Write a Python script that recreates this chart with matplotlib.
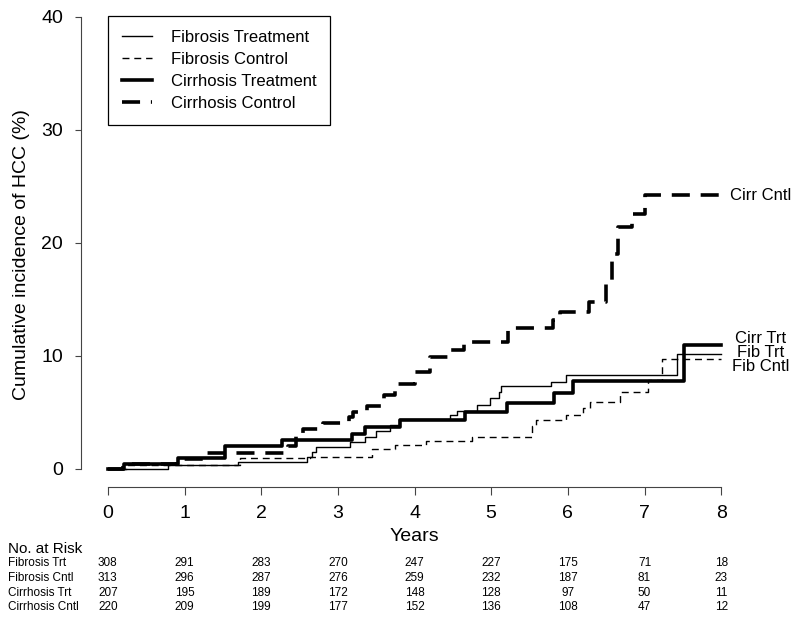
import numpy as np
import matplotlib
matplotlib.use('Agg')
from matplotlib import pyplot as plt
from matplotlib import transforms

plt.rcParams['font.family'] = ['Liberation Sans', 'DejaVu Sans']

# step curves (years, cumulative incidence %)
fib_trt_t = [0, 0.78, 1.70, 2.60, 2.66, 2.72, 3.16, 3.36, 3.50, 3.68, 3.80, 4.46, 4.55, 4.81, 4.99, 5.10, 5.13, 5.78, 5.98, 7.42, 8.0]
fib_trt_v = [0, 0.32, 0.65, 1.09, 1.53, 1.97, 2.40, 2.86, 3.36, 3.90, 4.40, 4.78, 5.16, 5.66, 6.30, 6.84, 7.30, 7.70, 8.30, 10.20, 10.20]

fib_cntl_t = [0, 0.25, 1.72, 2.64, 3.44, 3.75, 4.15, 4.75, 5.53, 5.58, 5.97, 6.20, 6.29, 6.68, 7.05, 7.23, 8.0]
fib_cntl_v = [0, 0.32, 0.95, 1.10, 1.74, 2.10, 2.50, 2.86, 3.80, 4.34, 4.80, 5.40, 5.96, 6.84, 7.90, 9.75, 9.75]

cirr_trt_t = [0, 0.21, 0.91, 1.53, 2.27, 3.18, 3.35, 3.81, 4.66, 5.21, 5.82, 6.07, 7.52, 8.0]
cirr_trt_v = [0, 0.48, 1.00, 2.00, 2.57, 3.10, 3.75, 4.30, 5.07, 5.87, 6.75, 7.80, 11.00, 11.00]

cirr_cntl_t = [0, 0.20, 0.90, 1.29, 2.35, 2.45, 2.55, 2.80, 3.14, 3.20, 3.38, 3.60, 3.75, 4.00, 4.20, 4.45, 4.65, 5.22, 5.80, 5.90, 6.27, 6.50, 6.57, 6.66, 6.84, 7.01, 8.0]
cirr_cntl_v = [0, 0.45, 0.90, 1.45, 2.00, 2.90, 3.50, 4.04, 4.60, 5.07, 5.60, 6.50, 7.50, 8.60, 9.90, 10.50, 11.20, 12.45, 13.20, 13.90, 14.80, 16.70, 19.00, 21.40, 22.60, 24.20, 24.20]

legend_names = ['Fibrosis Treatment', 'Fibrosis Control', 'Cirrhosis Treatment', 'Cirrhosis Control']
end_names = ['Fib Trt', 'Fib Cntl', 'Cirr Trt', 'Cirr Cntl']

# number at risk table
risk_years = [0, 1, 2, 3, 4, 5, 6, 7, 8]
risk_rows = ['Fibrosis Trt', 'Fibrosis Cntl', 'Cirrhosis Trt', 'Cirrhosis Cntl']
risk_fib_trt = [308, 291, 283, 270, 247, 227, 175, 71, 18]
risk_fib_cntl = [313, 296, 287, 276, 259, 232, 187, 81, 23]
risk_cirr_trt = [207, 195, 189, 172, 148, 128, 97, 50, 11]
risk_cirr_cntl = [220, 209, 199, 177, 152, 136, 108, 47, 12]

fig = plt.figure(figsize=(8, 6.22), dpi=100)
ax = fig.add_axes([0.10125, 0.217, 0.83375, 0.783])

curves = [(fib_trt_t, fib_trt_v), (fib_cntl_t, fib_cntl_v),
          (cirr_trt_t, cirr_trt_v), (cirr_cntl_t, cirr_cntl_v)]
widths = [1.0, 1.0, 2.6, 2.6]
dashes = [None, (5, 3.5), None, (5, 3)]
label_shift = [0.1, -0.7, 0.5, 0.0]

for (t, v), lw, ds, name in zip(curves, widths, dashes, legend_names):
    line, = ax.step(t, v, where='post', color='black', lw=lw, label=name)
    if ds is not None:
        line.set_dashes(ds)

for (t, v), name, dy in zip(curves, end_names, label_shift):
    ax.text(t[-1] + 0.51, v[-1] + dy, name, ha='center', va='center', fontsize=12)

ax.set_xlim(-0.35, 8.35)
ax.set_ylim(-1.6, 41.5)
ax.spines['top'].set_visible(False)
ax.spines['right'].set_visible(False)
ax.spines['left'].set_bounds(0, 40)
ax.spines['bottom'].set_bounds(0, 8)
ax.spines['left'].set_color('#444444')
ax.spines['bottom'].set_color('#444444')
ax.set_xticks(risk_years)
ax.set_yticks([0, 10, 20, 30, 40])
ax.tick_params(axis='x', length=6, color='#444444', labelsize=14, pad=7)
ax.tick_params(axis='y', length=4, color='#444444', labelsize=14, pad=9)
ax.set_xlabel('Years', fontsize=14, labelpad=4)

fig.text(22 / 800, 1 - 255 / 622, 'Cumulative incidence of HCC (%)',
         rotation=90, ha='center', va='center', fontsize=14)

leg = ax.legend(loc='upper left', bbox_to_anchor=(0.0405, 0.967), borderaxespad=0,
                fancybox=False, edgecolor='black', framealpha=1, fontsize=12,
                handlelength=1.8, handletextpad=1.1, labelspacing=0.42, borderpad=0.85)
leg.get_frame().set_linewidth(0.9)

# risk table under the axis
tr = transforms.blended_transform_factory(ax.transData, fig.transFigure)
fig.text(8 / 800, 1 - 549 / 622, 'No. at Risk', fontsize=11, va='center')
row_y = [563, 578, 593, 607]
for name, counts, y in zip(risk_rows, [risk_fib_trt, risk_fib_cntl, risk_cirr_trt, risk_cirr_cntl], row_y):
    fig.text(8 / 800, 1 - y / 622, name, fontsize=8.5, va='center')
    for yr, n in zip(risk_years, counts):
        ax.text(yr, 1 - y / 622, str(n), transform=tr, fontsize=8.5, ha='center', va='center')

fig.savefig('out.png', dpi=100)
